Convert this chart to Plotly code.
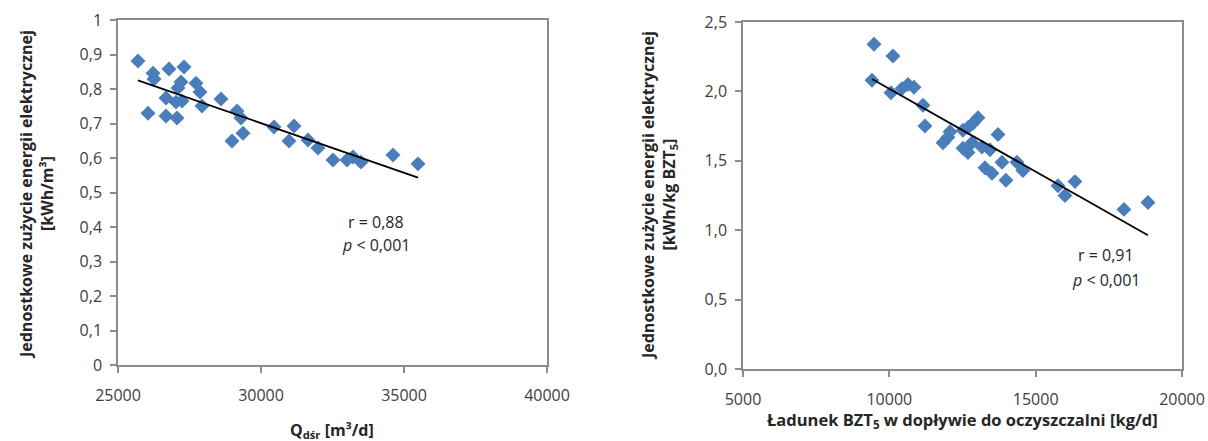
import numpy as np
import plotly.graph_objects as go

# Left chart: flow Q [m3/d] vs unit energy use [kWh/m3]
q_flow = [25699, 26224, 26259, 26783, 27308, 26049, 26678, 26678, 27063, 27028,
          27238, 27098, 27203, 27727, 27867, 27937, 28601, 28986, 29161, 29301,
          29371, 30455, 30979, 31154, 31643, 31993, 32517, 33007, 33217, 33497,
          34615, 35490]
e_per_m3 = [0.881, 0.846, 0.829, 0.858, 0.864, 0.730, 0.774, 0.722, 0.716, 0.762,
            0.765, 0.803, 0.820, 0.817, 0.791, 0.751, 0.771, 0.649, 0.736, 0.716,
            0.672, 0.690, 0.649, 0.693, 0.652, 0.629, 0.594, 0.594, 0.603, 0.588,
            0.609, 0.583]

# Right chart: BOD5 load [kg/d] vs unit energy use [kWh/kg BOD5]
bod_load = [9476, 10125, 9407, 10056, 10432, 10637, 10842, 11150, 11218, 11833,
            12004, 12072, 12516, 12687, 13029, 12858, 12516, 12687, 12824, 13165,
            13439, 13712, 13849, 13268, 13507, 13985, 14361, 14566, 15762, 16001,
            16343, 18016, 18836]
e_per_bod = [2.34, 2.255, 2.08, 1.99, 2.02, 2.05, 2.03, 1.90, 1.75, 1.63,
             1.67, 1.71, 1.72, 1.74, 1.81, 1.77, 1.59, 1.56, 1.63, 1.60,
             1.58, 1.69, 1.49, 1.45, 1.41, 1.36, 1.49, 1.43, 1.32, 1.25,
             1.35, 1.15, 1.20]

left_yticks = [0, 0.1, 0.2, 0.3, 0.4, 0.5, 0.6, 0.7, 0.8, 0.9, 1]
left_ytext = ["0", "0,1", "0,2", "0,3", "0,4", "0,5", "0,6", "0,7", "0,8", "0,9", "1"]
left_xticks = [25000, 30000, 35000, 40000]
right_yticks = [0, 0.5, 1.0, 1.5, 2.0, 2.5]
right_ytext = ["0,0", "0,5", "1,0", "1,5", "2,0", "2,5"]
right_xticks = [5000, 10000, 15000, 20000]

W, H = 1208, 441
BLUE = "#4A7EBB"
AX = "#8C8C8C"
FONT = "Open Sans"
TXT = "#262626"
TICK = "#404040"

fig = go.Figure()

def trend(x, y):
    x = np.array(x, float); y = np.array(y, float)
    k, b = np.polyfit(x, y, 1)
    xs = np.array([x.min(), x.max()])
    return xs, k * xs + b

for xs_, ys_, xa, ya in [(q_flow, e_per_m3, "x", "y"), (bod_load, e_per_bod, "x2", "y2")]:
    fig.add_trace(go.Scatter(x=xs_, y=ys_, mode="markers", xaxis=xa, yaxis=ya,
                             marker=dict(symbol="diamond", size=11.5, color=BLUE,
                                         line=dict(width=0)),
                             showlegend=False, cliponaxis=False))
    tx, ty = trend(xs_, ys_)
    fig.add_trace(go.Scatter(x=tx, y=ty, mode="lines", xaxis=xa, yaxis=ya,
                             line=dict(color="black", width=1.8), showlegend=False))

def px_dom(a, b, total):
    return [a / total, b / total]

common_axis = dict(showline=True, linecolor=AX, linewidth=1.5, mirror=True,
                   ticks="outside", ticklen=6, tickcolor=AX, tickwidth=1.5,
                   showgrid=False, zeroline=False, automargin=False,
                   tickfont=dict(family=FONT, size=16, color=TICK))

fig.update_layout(
    width=W, height=H, margin=dict(l=0, r=0, t=0, b=0, autoexpand=False),
    plot_bgcolor="white", paper_bgcolor="white",
    xaxis=dict(domain=px_dom(118, 547, W), range=[25000, 40000],
               tickvals=left_xticks, ticktext=[str(v) for v in left_xticks],
               anchor="y", ticklabelstandoff=9, **common_axis),
    yaxis=dict(domain=[(H - 365) / H, (H - 20) / H], range=[0, 1],
               tickvals=left_yticks, ticktext=left_ytext, anchor="x",
               ticklabelstandoff=5, **common_axis),
    xaxis2=dict(domain=px_dom(743, 1182, W), range=[5000, 20000],
                tickvals=right_xticks, ticktext=[str(v) for v in right_xticks],
                anchor="y2", ticklabelstandoff=9, **common_axis),
    yaxis2=dict(domain=[(H - 369) / H, (H - 22) / H], range=[0, 2.5],
                tickvals=right_yticks, ticktext=right_ytext, anchor="x2",
                ticklabelstandoff=5, **common_axis),
)

tfont = dict(family=FONT, size=16, color=TXT)
bfont = dict(family=FONT, size=16, color=TXT)
ann = []
# stat text
ann.append(dict(x=34020, y=0.414, xref="x", yref="y", text="r = 0,88", showarrow=False, font=tfont))
ann.append(dict(x=34020, y=0.348, xref="x", yref="y", text="<i>p</i> < 0,001", showarrow=False, font=tfont))
ann.append(dict(x=17400, y=0.82, xref="x2", yref="y2", text="r = 0,91", showarrow=False, font=tfont))
ann.append(dict(x=17400, y=0.64, xref="x2", yref="y2", text="<i>p</i> < 0,001", showarrow=False, font=tfont))
# axis titles
ctr = dict(xref="paper", yref="paper", xanchor="center", yanchor="middle", showarrow=False)
ann.append(dict(x=332 / W, y=1 - 430 / H, text="<b>Q<sub>dśr</sub> [m³/d]</b>", font=bfont, **ctr))
ann.append(dict(x=962 / W, y=1 - 420 / H,
                text="<b>Ładunek BZT<sub>5</sub> w dopływie do oczyszczalni [kg/d]</b>",
                font=dict(family=FONT, size=16.5, color=TXT), **ctr))
ann.append(dict(x=36 / W, y=1 - 195 / H, textangle=-90,
                text="<b>Jednostkowe zużycie energii elektrycznej<br>[kWh/m³]</b>",
                font=bfont, **ctr))
ann.append(dict(x=659 / W, y=1 - 196 / H, textangle=-90,
                text="<b>Jednostkowe zużycie energii elektrycznej<br>[kWh/kg BZT<sub>5</sub>]</b>",
                font=bfont, **ctr))
fig.update_layout(annotations=ann)

fig.write_html("out.html")
